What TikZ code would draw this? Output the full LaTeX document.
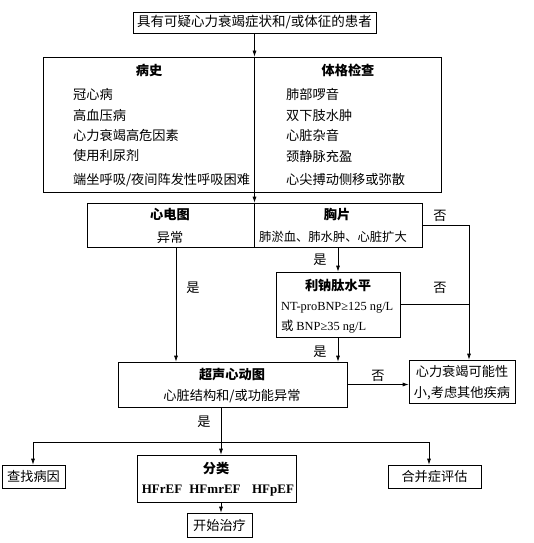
\documentclass[tikz,border=0pt]{standalone}
\usepackage{fontspec}
\setmainfont{Noto Sans CJK SC}
\newfontfamily\latin{Liberation Serif}
\usetikzlibrary{arrows.meta}

\begin{document}
\begin{tikzpicture}[
    x=1pt, y=-1pt,
    font=\fontsize{13.2}{15}\selectfont,
    box/.style={draw, line width=0.7pt, inner sep=0pt},
    txt/.style={inner sep=0pt},
    head/.style={txt, font=\fontsize{13.2}{15}\selectfont\bfseries},
    item/.style={txt, anchor=west},
    lbl/.style={txt},
    hf/.style={txt, anchor=base, font=\fontsize{13}{15}\selectfont\latin\bfseries},
    ln/.style={line width=0.7pt},
    arr/.style={ln, -{Latex[length=6pt,width=4pt]}},
]
    \useasboundingbox (0,0) rectangle (534,543);

    % Boxes
    \node[box, minimum width=243pt, minimum height=21pt, font=\fontsize{13.5}{15}\selectfont] (start) at (254.5,22.5) {具有可疑心力衰竭症状和/或体征的患者};
    \node[box, minimum width=398pt, minimum height=135pt] (exam) at (242,124.5) {};
    \node[box, minimum width=335pt, minimum height=44pt] (tests) at (254.5,225) {};
    \node[box, minimum width=124pt, minimum height=65pt] (bnp) at (338,304.5) {};
    \node[box, minimum width=229pt, minimum height=45pt] (echo) at (232.5,384.5) {};
    \node[box, minimum width=106pt, minimum height=43pt] (other) at (462,381.5) {};
    \node[box, minimum width=63pt, minimum height=23pt] (cause) at (33.5,476.5) {查找病因};
    \node[box, minimum width=159pt, minimum height=47pt] (classify) at (216.5,478.5) {};
    \node[box, minimum width=93pt, minimum height=23pt] (comorb) at (434.5,476.5) {合并症评估};
    \node[box, minimum width=65pt, minimum height=24pt] (treat) at (219.5,525) {开始治疗};

    % History and physical exam
    \node[head] (histhead) at (149,70) {病史};
    \node[item] (hist1) at (73,94) {冠心病};
    \node[item] (hist2) at (73,115) {高血压病};
    \node[item] (hist3) at (73,135) {心力衰竭高危因素};
    \node[item] (hist4) at (73,156) {使用利尿剂};
    \node[item] (hist5) at (73,180) {端坐呼吸/夜间阵发性呼吸困难};
    \node[head] (physhead) at (348,70) {体格检查};
    \node[item] (phys1) at (286,94) {肺部啰音};
    \node[item] (phys2) at (286,115) {双下肢水肿};
    \node[item] (phys3) at (286,135) {心脏杂音};
    \node[item] (phys4) at (286,156) {颈静脉充盈};
    \node[item] (phys5) at (286,180) {心尖搏动侧移或弥散};

    % ECG and chest film
    \node[head] (ecghead) at (170,215) {心电图};
    \node[txt] (ecgtext) at (170,237) {异常};
    \node[head] (xrayhead) at (337,215) {胸片};
    \node[txt, font=\fontsize{12.3}{15}\selectfont] (xraytext) at (333,237) {肺淤血、肺水肿、心脏扩大};

    % Natriuretic peptide
    \node[head] (bnphead) at (338,285) {利钠肽水平};
    \node[item, font=\fontsize{12.4}{15}\selectfont] (bnp1) at (281,308) {\latin NT-proBNP≥125 ng/L};
    \node[item, font=\fontsize{12.4}{15}\selectfont] (bnp2) at (281,327) {或 {\latin BNP≥35 ng/L}};

    % Echo
    \node[head] (echohead) at (232,375) {超声心动图};
    \node[txt] (echotext) at (232,396) {心脏结构和/或功能异常};
    \node[txt] (other1) at (462,371) {心力衰竭可能性};
    \node[txt] (other2) at (462,393) {小,考虑其他疾病};

    % Classification
    \node[head] (clshead) at (216,468) {分类};
    \node[hf] (hfref) at (162,493) {HFrEF};
    \node[hf] (hfmref) at (215,493) {HFmrEF};
    \node[hf] (hfpef) at (273,493) {HFpEF};

    % Connectors
    \coordinate (ecgout) at (176,247);
    \coordinate (junc) at (469,225);
    \coordinate (echoout) at (221,407);
    \coordinate (split) at (221,442);
    \coordinate (lft) at (33,442);
    \coordinate (rgt) at (429,442);

    \draw[arr] (start.south) -- (start.south |- exam.north);
    \draw[ln] (start.south |- exam.north) -- (start.south |- exam.south);
    \draw[arr] (start.south |- exam.south) -- (start.south |- tests.north);
    \draw[ln] (start.south |- tests.north) -- (start.south |- tests.south);

    \draw[arr] (ecgout) -- (ecgout |- echo.north);
    \draw[arr] (bnp.north |- tests.south) -- (bnp.north);
    \draw[arr] (bnp.south) -- (bnp.south |- echo.north);
    \draw[arr] (tests.east) -- (junc) -- (junc |- other.north);
    \draw[ln] (bnp.east) -- (bnp.east -| junc);
    \draw[arr] (echo.east) -- (echo.east -| other.west);

    \draw[ln] (echoout) -- (split);
    \draw[ln] (lft) -- (rgt);
    \draw[arr] (lft) -- (lft |- cause.north);
    \draw[arr] (split) -- (split |- classify.north);
    \draw[arr] (rgt) -- (rgt |- comorb.north);
    \draw[arr] (split |- classify.south) -- (split |- treat.north);

    % Labels
    \node[lbl] (yes1) at (193,288) {是};
    \node[lbl] (yes2) at (320,260) {是};
    \node[lbl] (yes3) at (320,352) {是};
    \node[lbl] (no1) at (440,216) {否};
    \node[lbl] (no2) at (440,288) {否};
    \node[lbl] (no3) at (378,376) {否};
    \node[lbl] (yes4) at (204,422) {是};
\end{tikzpicture}
\end{document}
